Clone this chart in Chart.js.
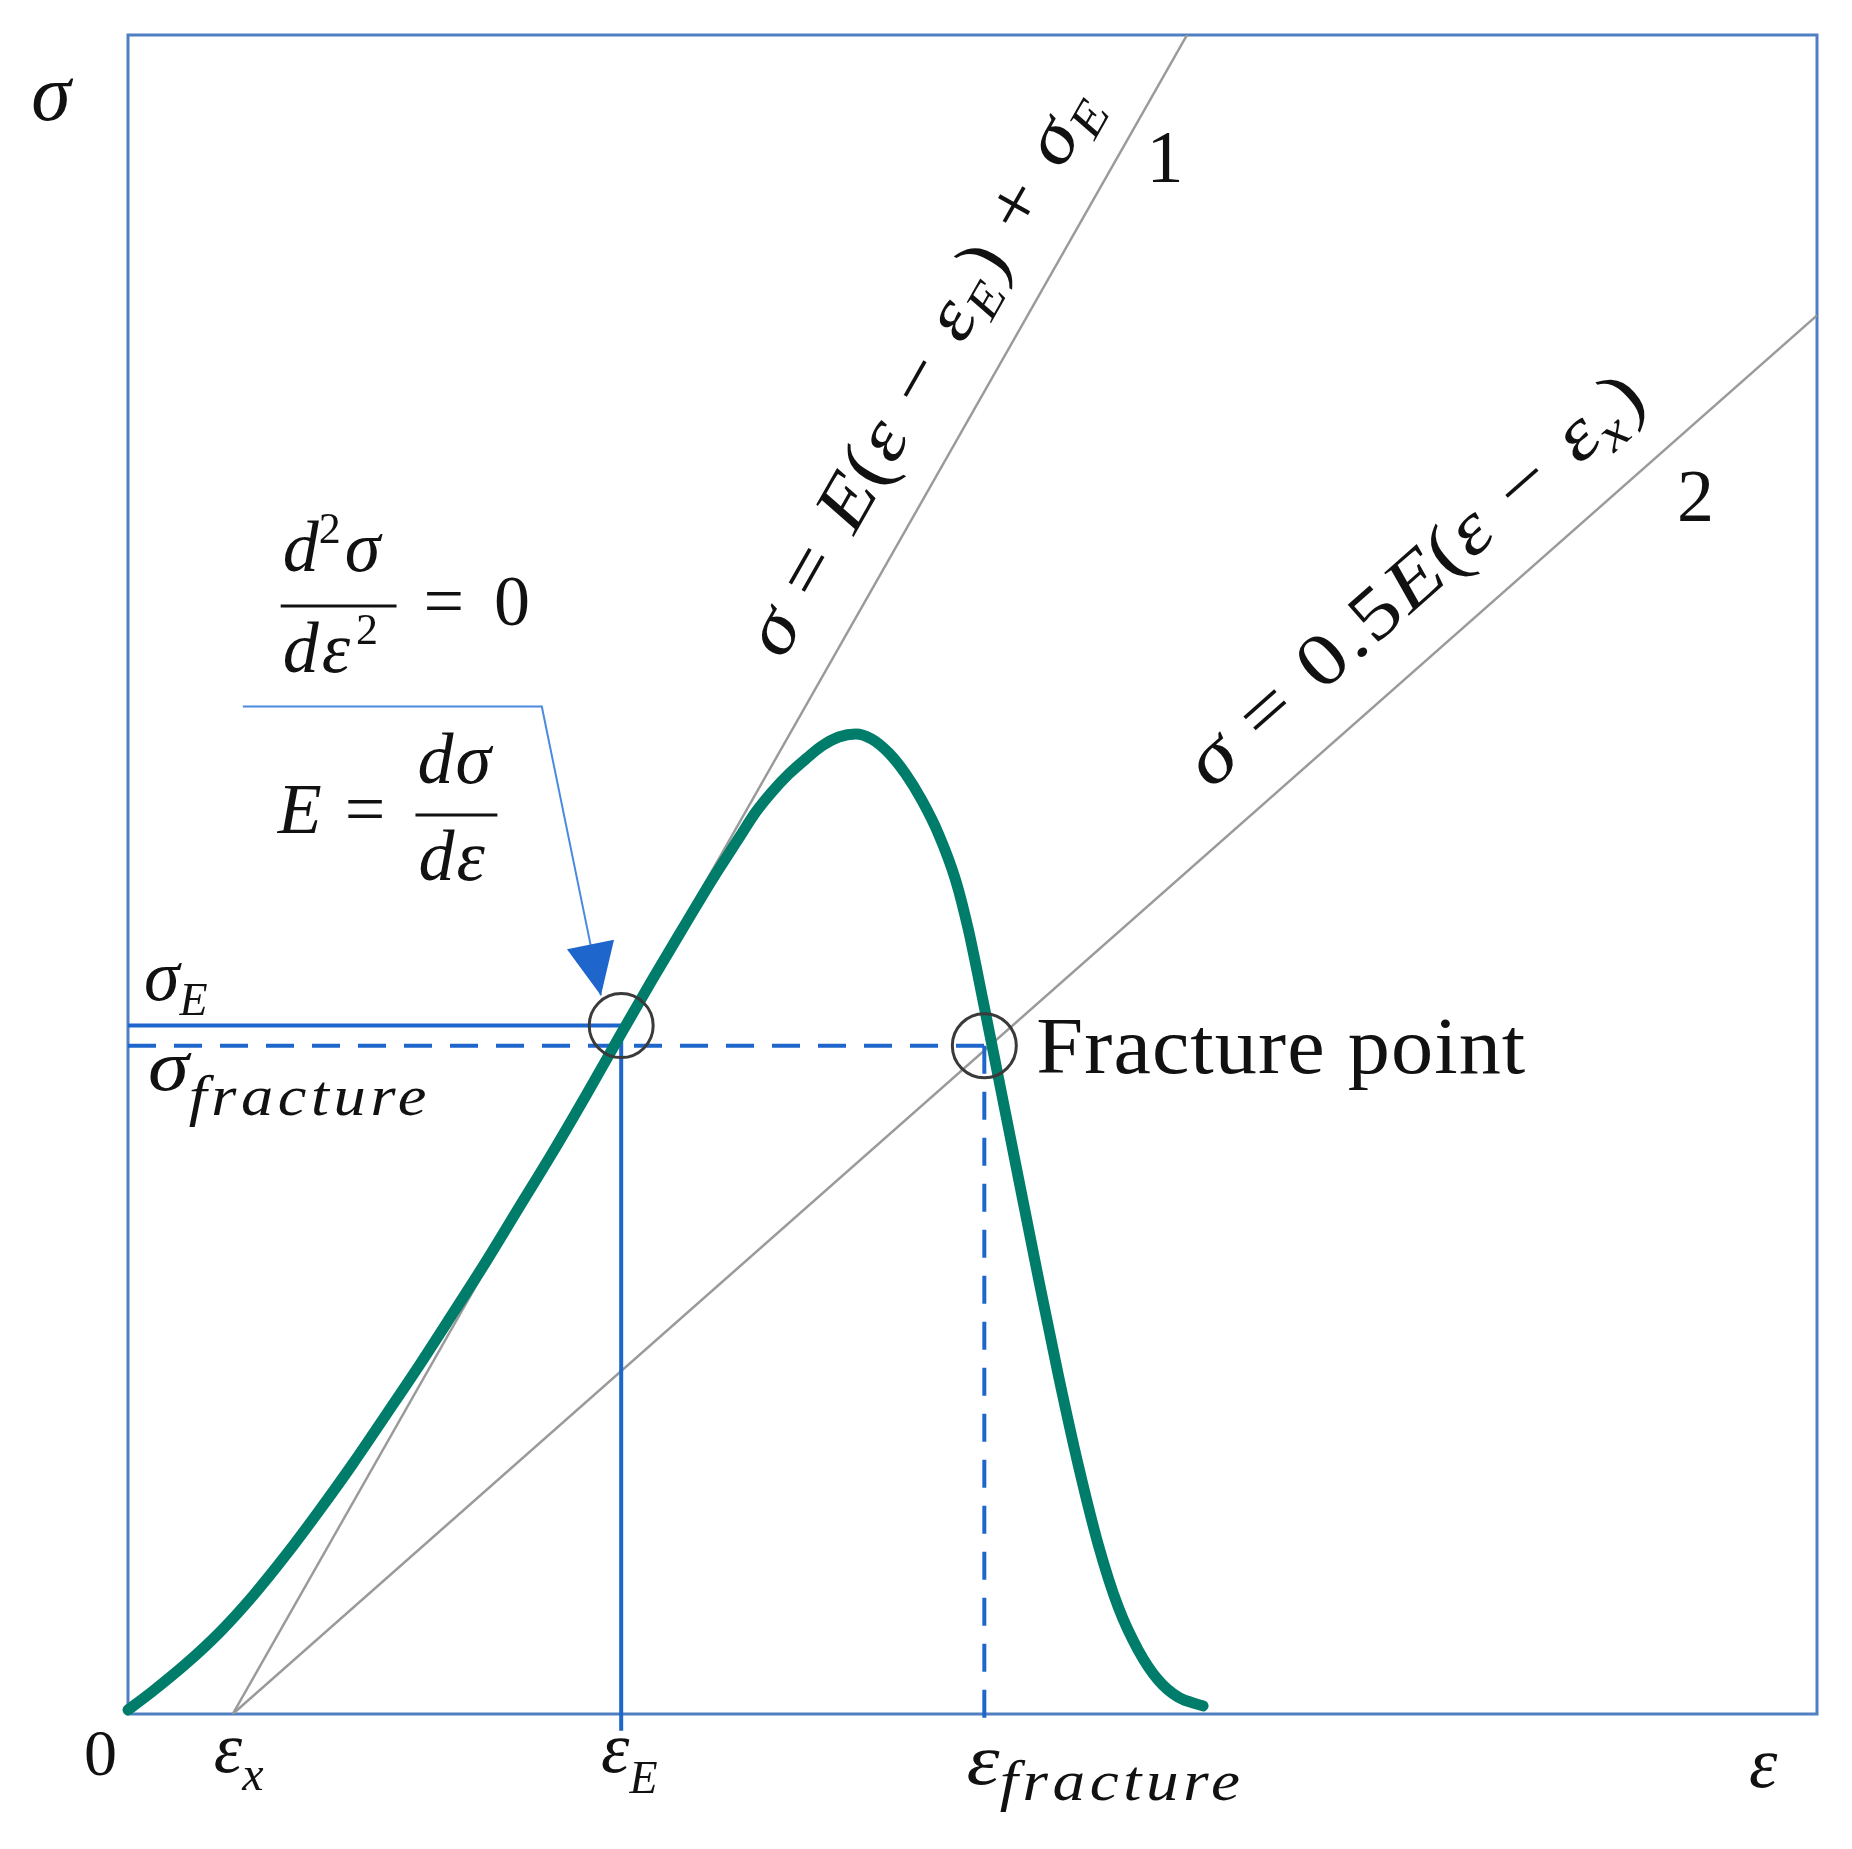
<!DOCTYPE html>
<html>
<head>
<meta charset="utf-8">
<title>σ – ε</title>
<script src="https://cdn.jsdelivr.net/npm/chart.js@4.4.1/dist/chart.umd.min.js"></script>
<style>
  html, body { margin: 0; padding: 0; background: #fff; }
</style>
</head>
<body>
<canvas id="grafica" width="1852" height="1849"></canvas>
<script>
// curva tension-deformacion (escala arbitraria 0..10 en ambos ejes)
const epsCurve = [0.000, 0.148, 0.349, 0.544, 0.739, 0.940, 1.135, 1.330, 1.531, 1.726, 1.921, 2.122, 2.317, 2.512,
  2.713, 2.908, 3.103, 3.304, 3.457, 3.617, 3.717, 3.812, 3.913, 4.013, 4.108, 4.208, 4.309, 4.403, 4.504, 4.604,
  4.699, 4.799, 4.900, 4.976, 5.065, 5.154, 5.272, 5.390, 5.508, 5.626, 5.745, 5.863, 5.981, 6.099, 6.217, 6.365];
const sigmaCurve = [0.024, 0.137, 0.304, 0.488, 0.703, 0.953, 1.215, 1.489, 1.787, 2.079, 2.382, 2.698, 3.020, 3.341,
  3.687, 4.032, 4.372, 4.711, 4.967, 5.217, 5.372, 5.491, 5.599, 5.688, 5.765, 5.819, 5.837, 5.807, 5.724, 5.599,
  5.444, 5.241, 4.967, 4.669, 4.235, 3.788, 3.192, 2.597, 2.019, 1.483, 1.007, 0.637, 0.381, 0.203, 0.101, 0.048];

// puntos marcados: eps_x, eps_E, eps_fracture y sigma_E, sigma_fracture
const epsMarks = [0.62, 2.92, 5.07];
const sigmaMarks = [4.10, 3.98];

// rectas 1 y 2 (tangente y 0.5E)
const line1Eps = [0.62, 6.27];
const line1Sigma = [0, 10];
const line2Eps = [0.62, 10];
const line2Sigma = [0, 8.33];

// flecha que señala el punto de inflexion
const arrowEps = [0.68, 2.45, 2.80];
const arrowSigma = [6.00, 6.00, 4.28];

const [epsX, epsE, epsF] = epsMarks;
const [sigmaE, sigmaF] = sigmaMarks;

const pares = (xs, ys) => xs.map((v, i) => ({x: v, y: ys[i]}));

const SERIF = '"Liberation Serif", "Times New Roman", serif';
const it = s => 'italic ' + s + 'px ' + SERIF;
const up = s => s + 'px ' + SERIF;

const AZUL = '#1f66cc';
const GRIS = '#9a9a9a';

// textos (posicion en unidades de los ejes, ancho en px)
const textos = [
  {x: -0.573, y: 9.494, runs: [{t: 'σ', f: it(80)}]},
  {x: 9.598, y: -0.435, runs: [{t: 'ε', f: it(72)}]},
  {x: -0.260, y: -0.363, runs: [{t: '0', f: up(66)}]},
  {x: 0.508, y: -0.345, runs: [{t: 'ε', f: it(72)}, {t: 'x', f: it(48), dy: 18}]},
  {x: 2.801, y: -0.345, runs: [{t: 'ε', f: it(72)}, {t: 'E', f: it(46), dy: 21}]},
  {x: 4.965, y: -0.417, ancho: 278, runs: [{t: 'ε', f: it(72)}, {t: 'fracture', f: it(56), dy: 16, ls: 4}]},
  {x: 0.095, y: 4.252, runs: [{t: 'σ', f: it(72)}, {t: 'E', f: it(46), dy: 15}]},
  {x: 0.118, y: 3.716, ancho: 283, runs: [{t: 'σ', f: it(72)}, {t: 'fracture', f: it(56), dy: 25, ls: 4}]},
  {x: 5.378, y: 3.818, ancho: 490, runs: [{t: 'Fracture point', f: up(80), ls: 1}]},
  // d2σ/dε2 = 0
  {x: 0.916, y: 6.808, runs: [{t: 'd', f: it(72)}, {t: '2', f: up(44), dy: -28}, {t: 'σ', f: it(72), dx: 4}]},
  {x: 0.916, y: 6.206, runs: [{t: 'd', f: it(72)}, {t: 'ε', f: it(72), dx: 3}, {t: '2', f: up(44), dy: -28, dx: 6}]},
  {x: 1.749, y: 6.486, runs: [{t: '=', f: up(72)}, {t: '0', f: up(72), dx: 30}]},
  // E = dσ/dε
  {x: 0.887, y: 5.247, runs: [{t: 'E', f: it(72)}, {t: '=', f: up(72), dx: 23}]},
  {x: 1.714, y: 5.545, runs: [{t: 'd', f: it(72)}, {t: 'σ', f: it(72), dx: 2}]},
  {x: 1.720, y: 4.967, runs: [{t: 'd', f: it(72)}, {t: 'ε', f: it(72), dx: 2}]},
  // numeros de las rectas
  {x: 6.14, y: 9.24, centro: true, runs: [{t: '1', f: up(74)}]},
  {x: 9.28, y: 7.22, centro: true, runs: [{t: '2', f: up(74)}]},
  // ecuaciones giradas
  {x: 3.877, y: 6.27, recta: [line1Eps, line1Sigma], ancho: 640, runs: [
    {t: 'σ', f: it(74)}, {t: ' = ', f: up(74), ls: 3}, {t: 'E', f: it(74)}, {t: '(', f: up(74)},
    {t: 'ε', f: it(74), ls: 3}, {t: ' − ', f: up(74), ls: 3}, {t: 'ε', f: it(74)}, {t: 'E', f: it(48), dy: 14},
    {t: ')', f: up(74), dx: 2}, {t: ' + ', f: up(74), ls: 3}, {t: 'σ', f: it(74)}, {t: 'E', f: it(48), dy: 14}]},
  {x: 6.41, y: 5.50, recta: [line2Eps, line2Sigma], ancho: 585, runs: [
    {t: 'σ', f: it(74)}, {t: ' = ', f: up(74), ls: 3}, {t: '0.5', f: up(74), ls: 2}, {t: 'E', f: it(74)},
    {t: '(', f: up(74)}, {t: 'ε', f: it(74), ls: 3}, {t: ' − ', f: up(74), ls: 3}, {t: 'ε', f: it(74)},
    {t: 'x', f: it(50), dy: 14}, {t: ')', f: up(74), dx: 3}]}
];

// rayas de fraccion
const fracciones = [
  {x1: 0.904, x2: 1.590, y: 6.599},
  {x1: 1.702, x2: 2.187, y: 5.354}
];

function escribir(ctx, runs, medir) {
  let x = 0;
  runs.forEach(r => {
    ctx.font = r.f;
    ctx.letterSpacing = (r.ls || 0) + 'px';
    x += r.dx || 0;
    if (!medir) ctx.fillText(r.t, x, r.dy || 0);
    x += ctx.measureText(r.t).width;
  });
  ctx.letterSpacing = '0px';
  return x;
}

const IDX_FLECHA = 8;

const anotaciones = {
  id: 'anotaciones',
  beforeDatasetsDraw(chart) {
    const {ctx, chartArea: a} = chart;
    ctx.save();
    ctx.strokeStyle = '#4f7fc0';
    ctx.lineWidth = 3;
    ctx.strokeRect(a.left, a.top, a.right - a.left, a.bottom - a.top);
    ctx.restore();
  },
  afterDatasetsDraw(chart) {
    const {ctx} = chart;
    const sx = chart.scales.x, sy = chart.scales.y;

    // punta de flecha
    const pts = chart.getDatasetMeta(IDX_FLECHA).data;
    const p1 = pts[pts.length - 2], p2 = pts[pts.length - 1];
    const ang = Math.atan2(p2.y - p1.y, p2.x - p1.x);
    ctx.save();
    ctx.translate(p2.x, p2.y);
    ctx.rotate(ang);
    ctx.fillStyle = AZUL;
    ctx.beginPath();
    ctx.moveTo(0, 0);
    ctx.lineTo(-52, -24);
    ctx.lineTo(-52, 24);
    ctx.closePath();
    ctx.fill();
    ctx.restore();

    // rayas de fraccion
    ctx.save();
    ctx.strokeStyle = '#111';
    ctx.lineWidth = 3;
    fracciones.forEach(f => {
      const yy = sy.getPixelForValue(f.y);
      ctx.beginPath();
      ctx.moveTo(sx.getPixelForValue(f.x1), yy);
      ctx.lineTo(sx.getPixelForValue(f.x2), yy);
      ctx.stroke();
    });
    ctx.restore();

    // textos
    textos.forEach(tx => {
      ctx.save();
      ctx.fillStyle = '#111';
      ctx.translate(sx.getPixelForValue(tx.x), sy.getPixelForValue(tx.y));
      if (tx.recta) {
        const [xs, ys] = tx.recta;
        const a = Math.atan2(sy.getPixelForValue(ys[1]) - sy.getPixelForValue(ys[0]),
                             sx.getPixelForValue(xs[1]) - sx.getPixelForValue(xs[0]));
        ctx.rotate(a);
      }
      if (tx.centro) {
        ctx.textAlign = 'center';
        ctx.textBaseline = 'middle';
      } else {
        ctx.textAlign = 'left';
        ctx.textBaseline = 'alphabetic';
      }
      if (tx.ancho) {
        const w = escribir(ctx, tx.runs, true);
        ctx.scale(tx.ancho / w, 1);
      }
      escribir(ctx, tx.runs);
      ctx.restore();
    });
  }
};

const ctx = document.getElementById('grafica').getContext('2d');
const miGrafica = new Chart(ctx, {
  type: 'line',
  data: {
    datasets: [
      { // 0 circulos
        data: pares([epsE, epsF], [sigmaE, sigmaF]),
        showLine: false, pointRadius: 32, pointHoverRadius: 32,
        pointBorderWidth: 3, pointBorderColor: '#3a3a3a', pointBackgroundColor: 'rgba(0,0,0,0)',
        order: 0, clip: false
      },
      { // 1 curva
        data: pares(epsCurve, sigmaCurve),
        borderColor: '#007d6a', borderWidth: 11, pointRadius: 0, fill: false,
        cubicInterpolationMode: 'monotone', borderCapStyle: 'round', order: 1, clip: false
      },
      { // 2 recta 1
        data: pares(line1Eps, line1Sigma),
        borderColor: GRIS, borderWidth: 2.5, pointRadius: 0, order: 3
      },
      { // 3 recta 2
        data: pares(line2Eps, line2Sigma),
        borderColor: GRIS, borderWidth: 2.5, pointRadius: 0, order: 3
      },
      { // 4 sigma_E horizontal
        data: pares([0, epsE], [sigmaE, sigmaE]),
        borderColor: AZUL, borderWidth: 4, pointRadius: 0, order: 2, clip: false
      },
      { // 5 eps_E vertical
        data: pares([epsE, epsE], [sigmaE, -0.1]),
        borderColor: AZUL, borderWidth: 4, pointRadius: 0, order: 2, clip: false
      },
      { // 6 sigma_fracture horizontal (trazos)
        data: pares([0, epsF], [sigmaF, sigmaF]),
        borderColor: AZUL, borderWidth: 4, borderDash: [28, 18], pointRadius: 0, order: 2, clip: false
      },
      { // 7 eps_fracture vertical (trazos)
        data: pares([epsF, epsF], [sigmaF, -0.1]),
        borderColor: AZUL, borderWidth: 4, borderDash: [28, 18], pointRadius: 0, order: 2, clip: false
      },
      { // 8 flecha
        data: pares(arrowEps, arrowSigma),
        borderColor: '#4a8ae0', borderWidth: 2, pointRadius: 0, order: 2, clip: false
      }
    ]
  },
  options: {
    responsive: false,
    animation: false,
    devicePixelRatio: 1,
    layout: { padding: { left: 128, right: 32, top: 35, bottom: 135 } },
    plugins: { legend: { display: false }, tooltip: { enabled: false } },
    scales: {
      x: { type: 'linear', min: 0, max: 10, display: false },
      y: { type: 'linear', min: 0, max: 10, display: false }
    }
  },
  plugins: [anotaciones]
});
</script>
</body>
</html>
